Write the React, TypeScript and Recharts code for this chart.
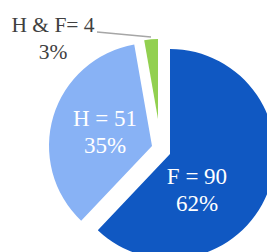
import { Cell, Pie, PieChart } from "recharts";

const names = ["F", "H", "H & F"];
const values = [90, 51, 4];
const labelTexts = ["F = 90", "H = 51", "H & F= 4"];
const colors = ["#1058C2", "#88B2F5", "#92D050"];

const data = names.map((name, idx) => ({ name, value: values[idx] }));

// each slice is drawn by its own Pie so it can be pulled out of the center
const slices = [
  { cx: 170, cy: 154, r: 105, dx: 27, dy: 35 },
  { cx: 152, cy: 146, r: 103, dx: -47, dy: -15 },
  { cx: 158, cy: 119, r: 80, dx: -105, dy: -82 },
];

const font = "'Liberation Serif', 'Times New Roman', serif";

const makeLabel = (slot: number) => (props: any) => {
  if (props.index !== slot) return null;
  const s = slices[slot];
  const x = props.cx + s.dx;
  const y = props.cy + s.dy;
  const pct = Math.round(props.percent * 100) + "%";
  const outside = slot === 2;
  const fill = outside ? "#404040" : "#ffffff";
  const size = outside ? 21.5 : 23;
  return (
    <g>
      {outside && (
        <line x1={x + 44} y1={y - 5} x2={props.cx - 7} y2={props.cy - 82} stroke="#a6a6a6" strokeWidth={1.5} />
      )}
      <text x={x} y={y - 5} textAnchor="middle" fill={fill} fontSize={size} fontFamily={font}>
        {labelTexts[props.index]}
      </text>
      <text x={x} y={y + 22} textAnchor="middle" fill={fill} fontSize={size} fontFamily={font}>
        {pct}
      </text>
    </g>
  );
};

export default function App() {
  return (
    <div style={{ position: "absolute", left: 0, top: 0 }}>
      <PieChart width={267} height={252} margin={{ top: 0, right: 0, bottom: 0, left: 0 }}>
        {slices.map((s, slot) => (
          <Pie
            key={slot}
            data={data}
            dataKey="value"
            nameKey="name"
            cx={s.cx}
            cy={s.cy}
            outerRadius={s.r}
            startAngle={90}
            endAngle={-270}
            stroke="none"
            label={makeLabel(slot)}
            labelLine={false}
            isAnimationActive={false}
          >
            {data.map((d, idx) => (
              <Cell key={d.name} fill={idx === slot ? colors[idx] : "none"} />
            ))}
          </Pie>
        ))}
      </PieChart>
    </div>
  );
}
